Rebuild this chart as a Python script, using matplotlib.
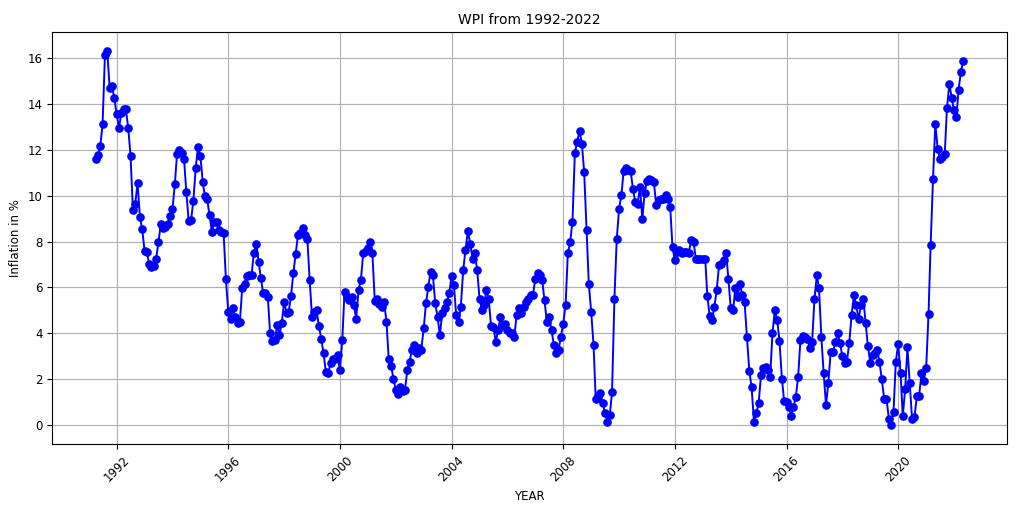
import pandas as pd
import matplotlib
matplotlib.use('Agg')
import matplotlib.pyplot as plt
import matplotlib.dates as mdates

# monthly WPI inflation (%), Apr 1991 - May 2022
wpi_1990s = [
    11.57, 11.75, 12.14, 13.1, 16.1, 16.3, 14.68, 14.75, 14.26,                # 1991 (Apr-Dec)
    13.54, 12.93, 13.57, 13.78, 13.75, 12.94, 11.74, 9.39, 9.65, 10.55, 9.07, 8.54,
    7.58, 7.55, 7.01, 6.9, 6.93, 7.26, 7.96, 8.75, 8.57, 8.64, 8.78, 9.12,
    9.43, 10.49, 11.8, 11.97, 11.83, 11.58, 10.16, 8.88, 8.93, 9.77, 11.2, 12.12,
    11.72, 10.59, 9.97, 9.83, 9.14, 8.42, 8.86, 8.86, 8.5, 8.42, 8.38, 6.35,
    4.94, 4.65, 5.09, 4.72, 4.46, 4.5, 5.96, 6.17, 6.49, 6.54, 6.55, 7.51,
    7.91, 7.12, 6.43, 5.78, 5.74, 5.6, 4.03, 3.67, 3.71, 4.36, 3.93, 4.46,
    5.38, 4.9, 4.94, 5.62, 6.61, 7.45, 8.28, 8.38, 8.57, 8.28, 8.09, 6.32,
    4.72, 4.94, 5.04, 4.32, 3.78, 3.13, 2.33, 2.26, 2.72, 2.91, 2.87, 3.06,
]
wpi_2000s = [
    2.41, 3.71, 5.81, 5.6, 5.45, 5.59, 5.23, 4.65, 5.91, 6.32, 7.48, 7.6,
    7.7, 7.99, 7.48, 5.42, 5.52, 5.3, 5.16, 5.38, 4.51, 2.87, 2.58, 2.04,
    1.54, 1.36, 1.68, 1.5, 1.54, 2.41, 2.77, 3.3, 3.49, 3.13, 3.35, 3.3,
    4.22, 5.33, 6.0, 6.68, 6.54, 5.33, 4.72, 3.93, 4.9, 5.09, 5.38, 5.74,
    6.49, 6.1, 4.8, 4.51, 5.16, 6.75, 7.62, 8.45, 7.91, 7.26, 7.51, 6.75,
    5.52, 5.01, 5.23, 5.91, 5.48, 4.32, 4.29, 3.64, 4.14, 4.72, 4.36, 4.43,
    4.14, 4.0, 4.0, 3.86, 4.8, 5.09, 4.87, 5.16, 5.38, 5.52, 5.67, 5.67,
    6.39, 6.61, 6.55, 6.32, 5.45, 4.51, 4.72, 4.14, 3.49, 3.13, 3.28, 3.86,
    4.43, 5.23, 7.48, 7.99, 8.86, 11.83, 12.33, 12.81, 12.26, 11.03, 8.49, 6.14,
    4.94, 3.49, 1.17, 1.3, 1.39, 0.96, 0.52, 0.16, 0.45, 1.46, 5.52, 8.09,
]
wpi_2010s = [
    9.43, 10.04, 11.06, 11.2, 11.1, 11.07, 10.3, 9.72, 9.62, 10.38, 8.96, 10.12,
    10.64, 10.74, 10.67, 10.59, 9.61, 9.8, 9.83, 9.87, 10.01, 9.83, 9.48, 7.74,
    7.19, 7.55, 7.62, 7.51, 7.55, 7.55, 7.5, 8.06, 7.99, 7.26, 7.22, 7.24,
    7.26, 7.26, 5.62, 4.75, 4.58, 5.16, 5.88, 6.97, 7.01, 7.19, 7.51, 6.39,
    5.09, 5.01, 5.96, 5.59, 6.17, 5.67, 5.38, 3.83, 2.38, 1.65, 0.16, 0.52,
    0.96, 2.19, 2.48, 2.52, 2.41, 2.12, 4.0, 5.04, 4.58, 3.68, 2.04, 1.06,
    1.03, 0.81, 0.42, 0.81, 1.22, 2.12, 3.71, 3.88, 3.83, 3.78, 3.35, 3.64,
    5.52, 6.54, 5.96, 3.83, 2.26, 0.88, 1.86, 3.2, 3.2, 3.64, 4.0, 3.57,
    3.01, 2.72, 2.77, 3.59, 4.8, 5.67, 5.23, 4.61, 5.23, 5.52, 4.46, 3.45,
    2.72, 3.06, 3.16, 3.28, 2.77, 2.0, 1.17, 1.17, 0.3, 0.01, 0.59, 2.77,
]
wpi_2020s = [
    3.54, 2.29, 0.41, 1.57, 3.39, 1.83, 0.26, 0.35, 1.28, 1.28, 2.26, 1.94,
    2.48, 4.83, 7.87, 10.74, 13.1, 12.04, 11.57, 11.68, 11.8, 13.83, 14.87, 14.26,
    13.71, 13.42, 14.61, 15.38, 15.86,                                          # 2022 (Jan-May)
]

inflation = wpi_1990s + wpi_2000s + wpi_2010s + wpi_2020s
dates = pd.date_range('1991-04-01', periods=len(inflation), freq='MS')

fig, ax = plt.subplots(figsize=(10.24, 5.12), dpi=100)
fig.subplots_adjust(left=0.051, right=0.983, bottom=0.133, top=0.9375)

ax.plot(dates, inflation, color='blue', marker='o', markersize=5.2, linewidth=1.4)

ax.set_title('WPI from 1992-2022', fontsize=10)
ax.set_xlabel('YEAR', fontsize=8.5)
ax.set_ylabel('Inflation in %', fontsize=8.5)
ax.xaxis.set_major_locator(mdates.YearLocator(4))
ax.xaxis.set_major_formatter(mdates.DateFormatter('%Y'))
ax.tick_params(axis='both', labelsize=8.5)
plt.setp(ax.get_xticklabels(), rotation=45)
ax.grid(True)

fig.savefig('out.png', dpi=100)
